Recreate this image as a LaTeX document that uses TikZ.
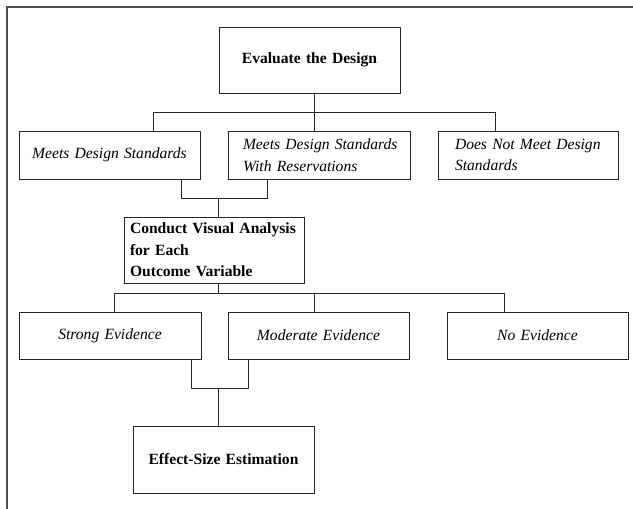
\documentclass[tikz,border=0pt]{standalone}
\usepackage{fontspec}
\setmainfont{Liberation Serif}
\begin{document}
\begin{tikzpicture}[x=1pt,y=-1pt,
  box/.style={draw=black!85, line width=0.9pt, inner ysep=0pt, font=\fontsize{15.6}{21.5}\selectfont},
  conn/.style={draw=black!85, line width=0.9pt},
  frame/.style={draw=black!70, line width=1.6pt}]
\useasboundingbox (0,0) rectangle (633,509);
% outer frame (left and top edges)
\coordinate (fbl) at (7,509);
\coordinate (ftl) at (7,7);
\coordinate (ftr) at (633,7);
\draw[frame] (fbl) -- (ftl) -- (ftr);
% boxes
\node[box, text width=169pt, inner xsep=6pt, align=center, minimum height=66pt] (eval) at (309.5,60) {\textbf{Evaluate the Design}};
\node[box, text width=169pt, inner xsep=6pt, align=center, minimum height=48pt] (meets) at (109.5,155) {\textit{Meets Design Standards}};
\node[box, text width=152pt, inner xsep=15pt, align=left, minimum height=48pt] (reserv) at (319,155) {\mbox{\textit{Meets Design Standards}}\\\mbox{\textit{With Reservations}}};
\node[box, text width=146pt, inner xsep=17pt, align=left, minimum height=48pt] (notmeet) at (528,155) {\mbox{\textit{Does Not Meet Design}}\\\mbox{\textit{Standards}}};
\node[box, text width=168pt, inner xsep=6pt, align=left, minimum height=66pt] (visual) at (214,250) {\mbox{\textbf{Conduct Visual Analysis}}\\\mbox{\textbf{for Each}}\\\mbox{\textbf{Outcome Variable}}};
\node[box, text width=170pt, inner xsep=6pt, align=center, minimum height=47pt] (strong) at (110,335.5) {\textit{Strong Evidence}};
\node[box, text width=169pt, inner xsep=6pt, align=center, minimum height=47pt] (moderate) at (318.5,335.5) {\textit{Moderate Evidence}};
\node[box, text width=169pt, inner xsep=6pt, align=center, minimum height=47pt] (noev) at (537.5,335.5) {\textit{No Evidence}};
\node[box, text width=169pt, inner xsep=6pt, align=center, minimum height=67pt] (effect) at (223.5,459.5) {\textbf{Effect-Size Estimation}};
% junction coordinates
\coordinate (j1) at (314,112);
\coordinate (j1l) at (153,112);
\coordinate (j1r) at (495,112);
\coordinate (j2l) at (181,198);
\coordinate (j2r) at (267,198);
\coordinate (j2m) at (218,198);
\coordinate (j3) at (218,293);
\coordinate (j3l) at (114,293);
\coordinate (j3m) at (314,293);
\coordinate (j3r) at (504,293);
\coordinate (j4l) at (191,388);
\coordinate (j4r) at (248,388);
\coordinate (j4m) at (218,388);
% connectors level 1
\draw[conn] (eval.south -| j1) -- (reserv.north -| j1);
\draw[conn] (meets.north -| j1l) -- (j1l) -- (j1r) -- (notmeet.north -| j1r);
% merge to visual analysis
\draw[conn] (meets.south -| j2l) -- (j2l) -- (j2r) -- (reserv.south -| j2r);
\draw[conn] (j2m) -- (visual.north -| j2m);
% level 2
\draw[conn] (visual.south -| j3) -- (j3);
\draw[conn] (strong.north -| j3l) -- (j3l) -- (j3r) -- (noev.north -| j3r);
\draw[conn] (j3m) -- (moderate.north -| j3m);
% merge to effect size
\draw[conn] (strong.south -| j4l) -- (j4l) -- (j4r) -- (moderate.south -| j4r);
\draw[conn] (j4m) -- (effect.north -| j4m);
\end{tikzpicture}
\end{document}
